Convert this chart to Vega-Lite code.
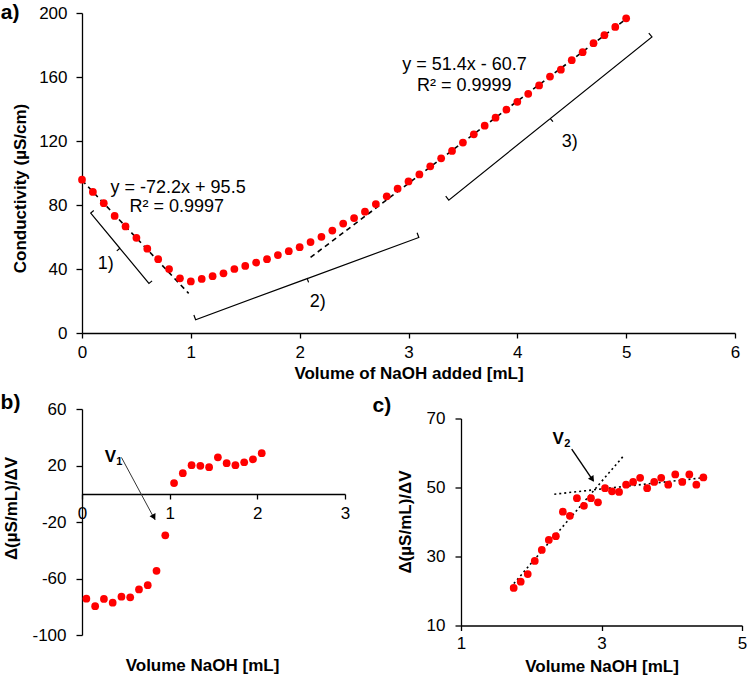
{
  "$schema": "https://vega.github.io/schema/vega-lite/v6.json",
  "padding": {"left": 0, "top": 2, "right": 0, "bottom": 0},
  "bounds": "flush",
  "spacing": 76,
  "config": {
    "view": {"stroke": null},
    "font": "Liberation Sans",
    "axis": {
      "grid": false, "domainColor": "black", "tickColor": "black", "labelColor": "black", "titleColor": "black",
      "labelFont": "Liberation Sans", "titleFont": "Liberation Sans", "labelFontSize": 17, "titleFontSize": 17,
      "titleFontWeight": "bold", "tickSize": 6, "domainWidth": 1.3, "tickWidth": 1.3,
      "labelFlush": false, "labelOverlap": false, "labelExpr": "'' + datum.value"
    },
    "text": {"font": "Liberation Sans", "color": "black"}
  },
  "datasets": {
    "cond": [
      {"v": 0.0, "c": 95.8}, {"v": 0.1, "c": 88.2}, {"v": 0.2, "c": 81.1}, {"v": 0.3, "c": 73.2}, {"v": 0.4, "c": 66.6},
      {"v": 0.5, "c": 59.5}, {"v": 0.6, "c": 52.7}, {"v": 0.7, "c": 46.1}, {"v": 0.8, "c": 40.0}, {"v": 0.9, "c": 34.2},
      {"v": 1.0, "c": 32.2}, {"v": 1.1, "c": 33.8}, {"v": 1.2, "c": 35.5}, {"v": 1.3, "c": 37.3}, {"v": 1.4, "c": 40.0},
      {"v": 1.5, "c": 41.9}, {"v": 1.6, "c": 44.0}, {"v": 1.7, "c": 46.1}, {"v": 1.8, "c": 48.7}, {"v": 1.9, "c": 51.1},
      {"v": 2.0, "c": 53.6}, {"v": 2.1, "c": 56.8}, {"v": 2.2, "c": 60.1}, {"v": 2.3, "c": 64.0}, {"v": 2.4, "c": 68.4},
      {"v": 2.5, "c": 71.8}, {"v": 2.6, "c": 75.8}, {"v": 2.7, "c": 80.6}, {"v": 2.8, "c": 85.4}, {"v": 2.9, "c": 90.2},
      {"v": 3.0, "c": 94.7}, {"v": 3.1, "c": 99.1}, {"v": 3.2, "c": 104.2}, {"v": 3.3, "c": 109.2}, {"v": 3.4, "c": 113.8},
      {"v": 3.5, "c": 119.0}, {"v": 3.6, "c": 124.2}, {"v": 3.7, "c": 129.6}, {"v": 3.8, "c": 134.6}, {"v": 3.9, "c": 139.6},
      {"v": 4.0, "c": 144.5}, {"v": 4.1, "c": 149.5}, {"v": 4.2, "c": 154.7}, {"v": 4.3, "c": 160.3}, {"v": 4.4, "c": 164.6},
      {"v": 4.5, "c": 170.5}, {"v": 4.6, "c": 175.5}, {"v": 4.7, "c": 181.1}, {"v": 4.8, "c": 186.1}, {"v": 4.9, "c": 191.3},
      {"v": 5.0, "c": 196.7}
    ],
    "fits": [
      {"seg": "1", "v": 0.0, "c": 95.5}, {"seg": "1", "v": 0.98, "c": 24.74},
      {"seg": "3", "v": 2.1, "c": 47.24}, {"seg": "3", "v": 5.0, "c": 196.3}
    ],
    "brackets": [
      {"b": "1", "o": 0, "v": 0.108, "c": 76.55}, {"b": "1", "o": 1, "v": 0.080, "c": 74.93}, {"b": "1", "o": 2, "v": 0.348, "c": 52.95},
      {"b": "1", "o": 3, "v": 0.320, "c": 51.32}, {"b": "1", "o": 4, "v": 0.348, "c": 52.95}, {"b": "1", "o": 5, "v": 0.615, "c": 30.97},
      {"b": "1", "o": 6, "v": 0.644, "c": 32.59},
      {"b": "2", "o": 0, "v": 1.028, "c": 11.24}, {"b": "2", "o": 1, "v": 1.044, "c": 8.30}, {"b": "2", "o": 2, "v": 2.069, "c": 34.0},
      {"b": "2", "o": 3, "v": 2.082, "c": 31.66}, {"b": "2", "o": 4, "v": 2.069, "c": 34.0}, {"b": "2", "o": 5, "v": 3.095, "c": 59.69},
      {"b": "2", "o": 6, "v": 3.079, "c": 62.63},
      {"b": "3", "o": 0, "v": 3.342, "c": 85.48}, {"b": "3", "o": 1, "v": 3.370, "c": 83.05}, {"b": "3", "o": 2, "v": 4.303, "c": 134.03},
      {"b": "3", "o": 3, "v": 4.327, "c": 132.06}, {"b": "3", "o": 4, "v": 4.303, "c": 134.03}, {"b": "3", "o": 5, "v": 5.237, "c": 185.01},
      {"b": "3", "o": 6, "v": 5.208, "c": 187.44}
    ],
    "annA": [
      {"v": 0.883, "c": 90.9, "t": "y = -72.2x + 95.5"},
      {"v": 0.871, "c": 78.9, "t": "R² = 0.9997"},
      {"v": 3.515, "c": 167.5, "t": "y = 51.4x - 60.7"},
      {"v": 3.512, "c": 154.4, "t": "R² = 0.9999"},
      {"v": 0.218, "c": 43.1, "t": "1)"},
      {"v": 2.167, "c": 19.1, "t": "2)"},
      {"v": 4.481, "c": 119.6, "t": "3)"}
    ],
    "panelA": [{"v": -0.661, "c": 200, "t": "a)"}],
    "deriv1": [
      {"v": 0.05, "d": -74.3}, {"v": 0.15, "d": -79.6}, {"v": 0.25, "d": -74.5}, {"v": 0.35, "d": -77.1}, {"v": 0.45, "d": -72.9},
      {"v": 0.55, "d": -73.3}, {"v": 0.65, "d": -67.7}, {"v": 0.75, "d": -64.7}, {"v": 0.85, "d": -54.6}, {"v": 0.95, "d": -29.4},
      {"v": 1.05, "d": 7.6}, {"v": 1.15, "d": 14.6}, {"v": 1.25, "d": 20.2}, {"v": 1.35, "d": 19.8}, {"v": 1.45, "d": 18.8},
      {"v": 1.55, "d": 25.8}, {"v": 1.65, "d": 21.6}, {"v": 1.75, "d": 20.2}, {"v": 1.85, "d": 22.3}, {"v": 1.95, "d": 24.4},
      {"v": 2.05, "d": 28.7}
    ],
    "deriv2": [
      {"v": 1.75, "d": 20.9}, {"v": 1.85, "d": 22.7}, {"v": 1.95, "d": 24.9}, {"v": 2.05, "d": 28.7}, {"v": 2.15, "d": 31.9},
      {"v": 2.25, "d": 34.8}, {"v": 2.35, "d": 35.9}, {"v": 2.45, "d": 43.0}, {"v": 2.55, "d": 41.8}, {"v": 2.65, "d": 46.9},
      {"v": 2.75, "d": 44.7}, {"v": 2.85, "d": 46.9}, {"v": 2.95, "d": 45.7}, {"v": 3.05, "d": 49.8}, {"v": 3.15, "d": 48.9},
      {"v": 3.25, "d": 48.7}, {"v": 3.35, "d": 50.8}, {"v": 3.45, "d": 51.6}, {"v": 3.55, "d": 52.8}, {"v": 3.65, "d": 49.8},
      {"v": 3.75, "d": 51.6}, {"v": 3.85, "d": 52.8}, {"v": 3.95, "d": 50.8}, {"v": 4.05, "d": 53.8}, {"v": 4.15, "d": 51.6},
      {"v": 4.25, "d": 53.8}, {"v": 4.35, "d": 50.8}, {"v": 4.45, "d": 52.9}
    ],
    "tang": [
      {"t": "a", "v": 1.706, "d": 21.07}, {"t": "a", "v": 3.32, "d": 59.3},
      {"t": "b", "v": 2.328, "d": 48.06}, {"t": "b", "v": 4.46, "d": 52.86}
    ],
    "arrow1": [{"v": 0.45, "d": 25.7}, {"v": 0.834, "d": -18.6}],
    "arrow2": [{"v": 2.576, "d": 61.1}, {"v": 2.883, "d": 51.9}],
    "head1": [{"v": 0.815, "d": -16.0}],
    "head2": [{"v": 2.862, "d": 52.6}],
    "vlabB": [{"v": 0.323, "d": 26.2, "t": "V"}],
    "vsubB": [{"v": 0.323, "d": 26.2, "t": "1"}],
    "panelB": [{"v": -0.816, "d": 64.2, "t": "b)"}],
    "vlabC": [{"v": 2.384, "d": 64.2, "t": "V"}],
    "vsubC": [{"v": 2.384, "d": 64.2, "t": "2"}],
    "panelC": [{"v": -0.126, "d": 73.6, "t": "c)"}]
  },
  "vconcat": [
    {
      "width": 653,
      "height": 320,
      "encoding": {
        "x": {"field": "v", "type": "quantitative", "scale": {"domain": [0, 6], "nice": false},
          "axis": {"values": [0, 1, 2, 3, 4, 5, 6], "title": "Volume of NaOH added [mL]", "tickSize": 5, "labelPadding": 6, "titlePadding": 5}},
        "y": {"field": "c", "type": "quantitative", "scale": {"domain": [0, 200], "nice": false},
          "axis": {"values": [0, 40, 80, 120, 160, 200], "title": "Conductivity (µS/cm)", "labelPadding": 9,
            "titleX": -62, "titleY": 175, "titleAngle": -90, "titleAlign": "center", "titleBaseline": "middle"}}
      },
      "layer": [
        {"data": {"name": "fits"}, "mark": {"type": "line", "color": "black", "strokeDash": [5, 4], "strokeWidth": 1.6},
          "encoding": {"detail": {"field": "seg"}}},
        {"data": {"name": "brackets"}, "mark": {"type": "line", "color": "black", "strokeWidth": 1.2},
          "encoding": {"detail": {"field": "b"}, "order": {"field": "o"}}},
        {"data": {"name": "cond"}, "mark": {"type": "point", "filled": true, "color": "#ff0000", "size": 60, "opacity": 1}},
        {"data": {"name": "annA"}, "mark": {"type": "text", "fontSize": 18, "baseline": "middle", "align": "center"},
          "encoding": {"text": {"field": "t"}}},
        {"data": {"name": "panelA"}, "mark": {"type": "text", "fontSize": 21, "fontWeight": "bold", "baseline": "middle", "align": "center"},
          "encoding": {"text": {"field": "t"}}}
      ]
    },
    {
      "hconcat": [
        {
          "width": 263,
          "height": 226,
          "title": {"text": "Volume NaOH [mL]", "orient": "bottom", "anchor": "middle", "frame": "group", "fontSize": 17,
            "fontWeight": "bold", "font": "Liberation Sans", "color": "black", "offset": 15, "dx": -11},
          "encoding": {
            "x": {"field": "v", "type": "quantitative", "scale": {"domain": [0, 3], "nice": false},
              "axis": {"values": [0, 1, 2, 3], "title": null, "offset": -141, "tickSize": 5, "labelPadding": 6}},
            "y": {"field": "d", "type": "quantitative", "scale": {"domain": [-100, 60], "nice": false, "zero": false},
              "axis": {"values": [-100, -60, -20, 20, 60], "title": "Δ(µS/mL)/ΔV", "labelPadding": 10,
                "titleX": -71, "titleY": 99, "titleAngle": -90, "titleAlign": "center", "titleBaseline": "middle"}}
          },
          "layer": [
            {"data": {"name": "arrow1"}, "mark": {"type": "line", "color": "#333333", "strokeWidth": 1}},
            {"data": {"name": "head1"}, "mark": {"type": "point", "shape": "triangle", "filled": true, "color": "black", "size": 45, "angle": 152, "opacity": 1}},
            {"data": {"name": "deriv1"}, "mark": {"type": "point", "filled": true, "color": "#ff0000", "size": 60, "opacity": 1}},
            {"data": {"name": "vlabB"}, "mark": {"type": "text", "fontSize": 17, "fontWeight": "bold", "baseline": "middle", "align": "center"},
              "encoding": {"text": {"field": "t"}}},
            {"data": {"name": "vsubB"}, "mark": {"type": "text", "fontSize": 11, "fontWeight": "bold", "baseline": "middle", "align": "center", "dx": 9, "dy": 5},
              "encoding": {"text": {"field": "t"}}},
            {"data": {"name": "panelB"}, "mark": {"type": "text", "fontSize": 21, "fontWeight": "bold", "baseline": "middle", "align": "center"},
              "encoding": {"text": {"field": "t"}}}
          ]
        },
        {
          "width": 281,
          "height": 207,
          "encoding": {
            "x": {"field": "v", "type": "quantitative", "scale": {"domain": [1, 5], "nice": false, "zero": false},
              "axis": {"values": [1, 3, 5], "title": "Volume NaOH [mL]", "tickSize": 5, "labelPadding": 5, "titlePadding": 7}},
            "y": {"field": "d", "type": "quantitative", "scale": {"domain": [10, 70], "nice": false, "zero": false},
              "axis": {"values": [10, 30, 50, 70], "title": "Δ(µS/mL)/ΔV", "labelPadding": 10,
                "titleX": -56, "titleY": 103, "titleAngle": -90, "titleAlign": "center", "titleBaseline": "middle"}}
          },
          "layer": [
            {"data": {"name": "tang"}, "mark": {"type": "line", "color": "black", "strokeDash": [2, 3], "strokeWidth": 1.6},
              "encoding": {"detail": {"field": "t"}}},
            {"data": {"name": "arrow2"}, "mark": {"type": "line", "color": "black", "strokeWidth": 1.4}},
            {"data": {"name": "head2"}, "mark": {"type": "point", "shape": "triangle", "filled": true, "color": "black", "size": 45, "angle": 146, "opacity": 1}},
            {"data": {"name": "deriv2"}, "mark": {"type": "point", "filled": true, "color": "#ff0000", "size": 60, "opacity": 1}},
            {"data": {"name": "vlabC"}, "mark": {"type": "text", "fontSize": 17, "fontWeight": "bold", "baseline": "middle", "align": "center"},
              "encoding": {"text": {"field": "t"}}},
            {"data": {"name": "vsubC"}, "mark": {"type": "text", "fontSize": 11, "fontWeight": "bold", "baseline": "middle", "align": "center", "dx": 9, "dy": 5},
              "encoding": {"text": {"field": "t"}}},
            {"data": {"name": "panelC"}, "mark": {"type": "text", "fontSize": 21, "fontWeight": "bold", "baseline": "middle", "align": "center"},
              "encoding": {"text": {"field": "t"}}}
          ]
        }
      ],
      "spacing": 116,
      "center": true,
      "bounds": "flush"
    }
  ]
}
